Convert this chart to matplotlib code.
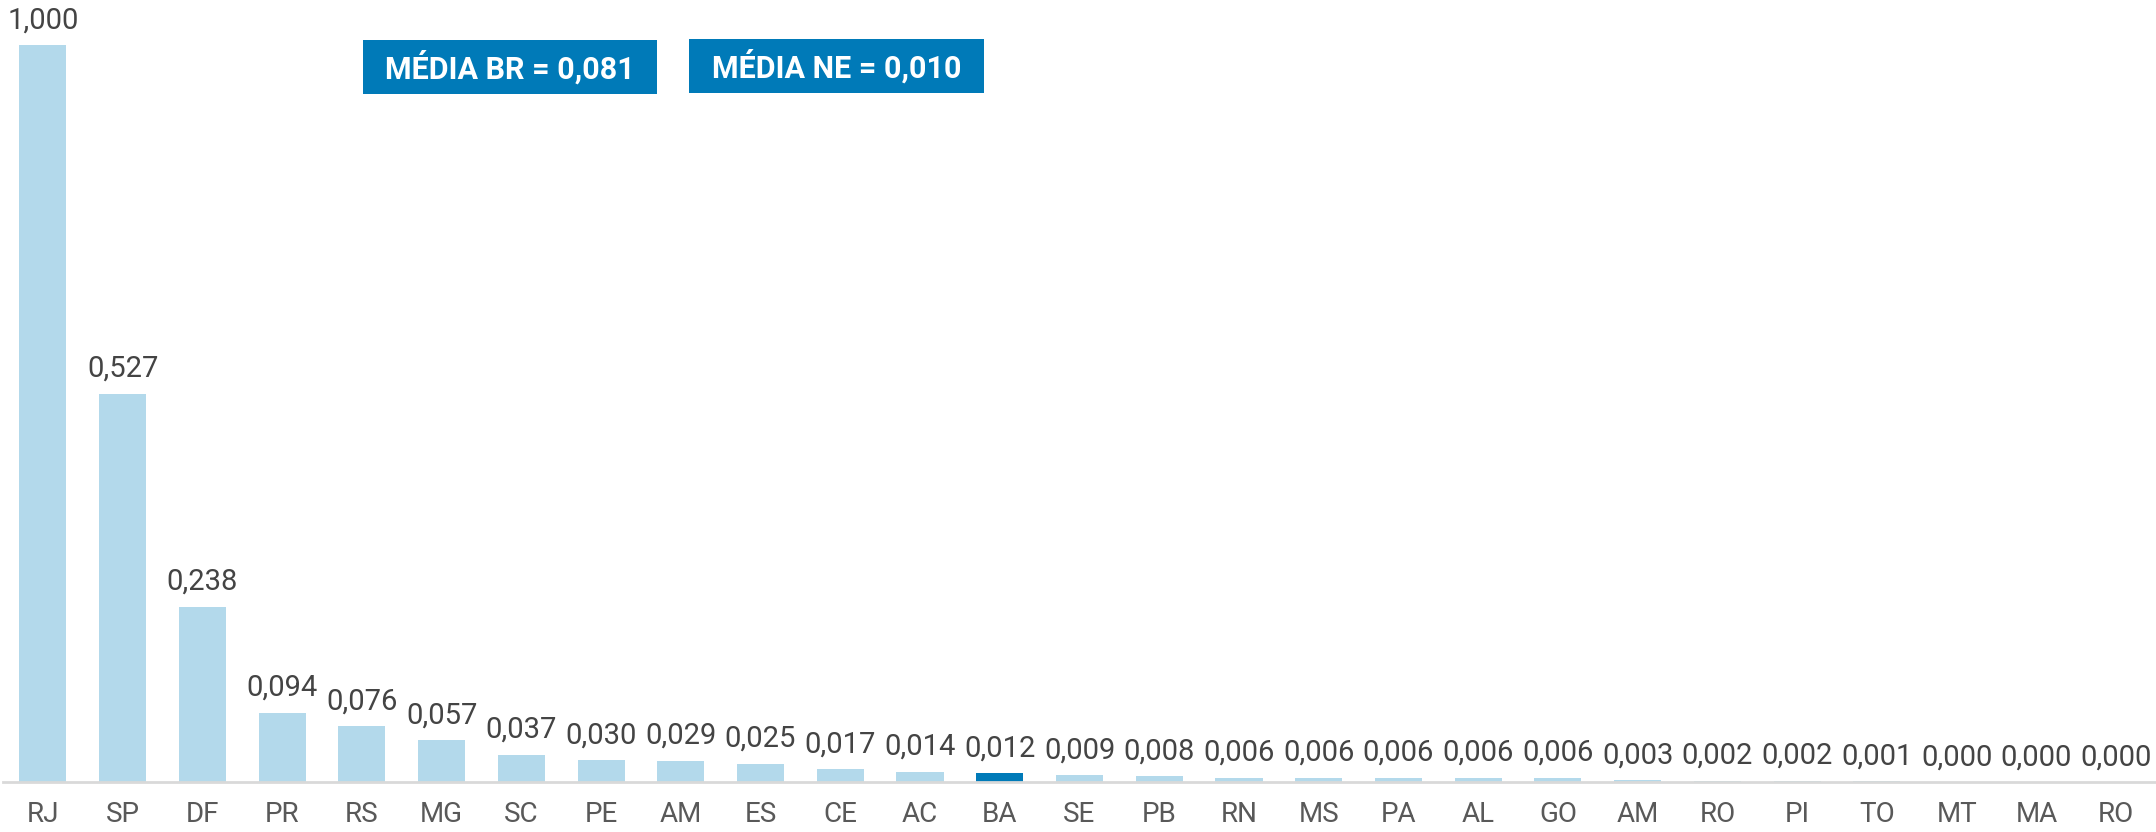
import matplotlib.pyplot as plt
from matplotlib.patches import Rectangle

plt.rcParams['font.family'] = ['Roboto', 'DejaVu Sans']

# data
estados = ["RJ", "SP", "DF", "PR", "RS", "MG", "SC", "PE", "AM", "ES", "CE", "AC", "BA",
           "SE", "PB", "RN", "MS", "PA", "AL", "GO", "AM", "RO", "PI", "TO", "MT", "MA", "RO"]
valores = [1.000, 0.527, 0.238, 0.094, 0.076, 0.057, 0.037, 0.030, 0.029, 0.025, 0.017,
           0.014, 0.012, 0.009, 0.008, 0.006, 0.006, 0.006, 0.006, 0.006, 0.003, 0.002,
           0.002, 0.001, 0.000, 0.000, 0.000]
destaque = "BA"
medias = ["MÉDIA BR = 0,081", "MÉDIA NE = 0,010"]

light = "#b3d9eb"
dark = "#007ab8"

W, H = 2156, 832
fig = plt.figure(figsize=(W / 100, H / 100), dpi=100)
ax = fig.add_axes([3 / W, 50 / H, 2153 / W, 737 / H])

xs = list(range(len(valores)))
cores = [dark if e == destaque else light for e in estados]
ax.bar(xs, valores, width=0.59, color=cores, zorder=2)

for x, v in zip(xs, valores):
    ax.annotate(f"{v:.3f}".replace(".", ","), (x, v), xytext=(0, 12),
                textcoords="offset points", ha="center", va="baseline",
                fontsize=21, color="#444444", annotation_clip=False)

ax.set_xlim(-0.5, len(valores) - 0.5)
ax.set_ylim(0, 1)
ax.set_xticks(xs)
ax.set_xticklabels(estados, fontsize=20, color="#595959")
ax.tick_params(axis="x", length=0, pad=14)
ax.set_yticks([])
for s in ["top", "right", "left"]:
    ax.spines[s].set_visible(False)
ax.spines["bottom"].set_color("#d9d9d9")
ax.spines["bottom"].set_linewidth(2)

# caixas de média (em pixels da figura)
caixas = [(363, 40, 294, 54), (689, 39, 295, 54)]
for txt, (x0, y0, w, h) in zip(medias, caixas):
    fig.patches.append(Rectangle((x0 / W, 1 - (y0 + h) / H), w / W, h / H,
                                 transform=fig.transFigure, facecolor=dark,
                                 edgecolor="none"))
    fig.text((x0 + w / 2) / W, 1 - (y0 + h / 2) / H, txt, ha="center", va="center",
             fontsize=22, fontweight="bold", color="white")

fig.savefig("out.png", dpi=100)
